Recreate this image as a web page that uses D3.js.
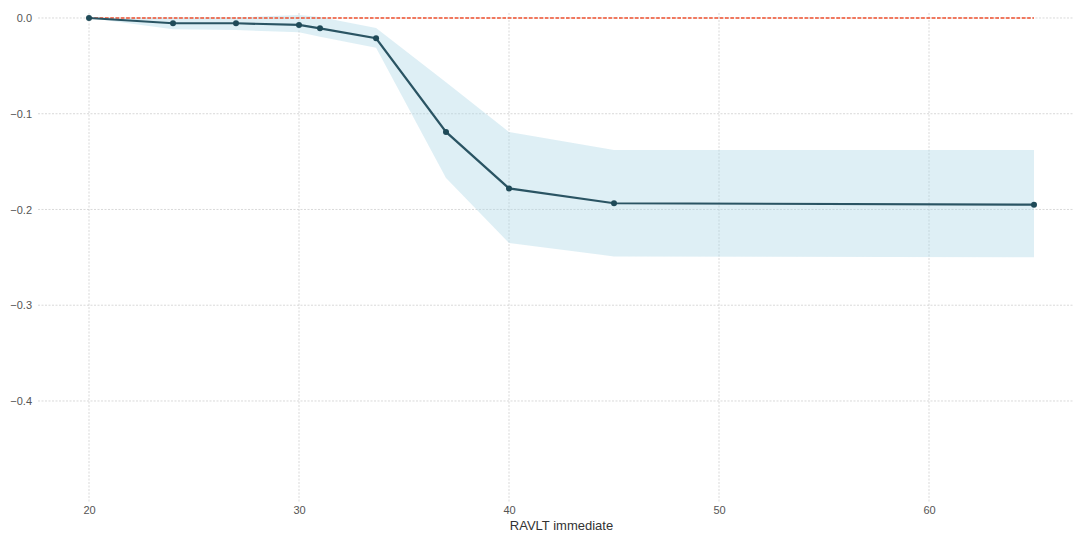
<!DOCTYPE html>
<html><head><meta charset="utf-8">
<script src="https://cdn.jsdelivr.net/npm/d3@7"></script>
<style>
html,body{margin:0;padding:0;background:#fff;}
svg{display:block;font-family:"Liberation Sans",Arial,sans-serif;}
</style></head>
<body><svg id="chart" width="1073" height="536"></svg>
<script>
const xValues = [20, 24, 27, 30, 31, 33.67, 37, 40, 45, 65];
const yValues = [0, -0.0055, -0.0055, -0.0073, -0.0108, -0.0212, -0.119, -0.178, -0.1935, -0.195];
const upperBand = [0, 0.0005, 0.0005, 0.003, 0.001, -0.0105, -0.067, -0.119, -0.138, -0.138];
const lowerBand = [0, -0.0118, -0.0125, -0.015, -0.0195, -0.031, -0.167, -0.235, -0.249, -0.250];
const xTicks = [20, 30, 40, 50, 60];
const yTicks = [0.0, -0.1, -0.2, -0.3, -0.4];
const xLabel = "RAVLT immediate";
const refValue = 0;

const svg = d3.select("#chart");
const x = d3.scaleLinear().domain([17.75, 67.25]).range([41.75, 1081.25]);
const y = d3.scaleLinear().domain([0.0052, -0.5055]).range([13, 502]);

const data = xValues.map((v, i) => ({x: v, y: yValues[i], lo: lowerBand[i], hi: upperBand[i]}));

// grid
const grid = svg.append("g");
grid.selectAll("line.vg").data(xTicks).join("line")
  .attr("x1", d => x(d)).attr("x2", d => x(d))
  .attr("y1", 13).attr("y2", 502)
  .attr("stroke", "#cfcfcf").attr("stroke-width", 0.8).attr("stroke-dasharray", "2,1.5");
grid.selectAll("line.hg").data(yTicks).join("line")
  .attr("x1", 38).attr("x2", 1081.25)
  .attr("y1", d => y(d)).attr("y2", d => y(d))
  .attr("stroke", "#cfcfcf").attr("stroke-width", 0.8).attr("stroke-dasharray", "2,1.5");

// band
svg.append("path").datum(data)
  .attr("d", d3.area().x(d => x(d.x)).y0(d => y(d.lo)).y1(d => y(d.hi)))
  .attr("fill", "#add8e6").attr("fill-opacity", 0.4);

// reference line
svg.append("line")
  .attr("x1", x(xValues[0])).attr("x2", x(xValues[xValues.length - 1]))
  .attr("y1", y(refValue)).attr("y2", y(refValue))
  .attr("stroke", "#f0502f").attr("stroke-width", 1.3).attr("stroke-dasharray", "3.7,1.6");

// line
svg.append("path").datum(data)
  .attr("d", d3.line().x(d => x(d.x)).y(d => y(d.y)))
  .attr("fill", "none").attr("stroke", "#2a5463").attr("stroke-width", 2.2);
svg.selectAll("circle.pt").data(data).join("circle")
  .attr("cx", d => x(d.x)).attr("cy", d => y(d.y)).attr("r", 3)
  .attr("fill", "#1f4a58");

// axes
const xAxis = d3.axisBottom(x).tickValues(xTicks).tickFormat(d3.format("d")).tickSize(0).tickPadding(4);
const gx = svg.append("g").attr("transform", "translate(0,502)").call(xAxis);
gx.select(".domain").remove();
gx.selectAll("text").attr("fill", "#555").attr("font-size", 11).attr("font-family", "Liberation Sans, Arial, sans-serif");

const yAxis = d3.axisLeft(y).tickValues(yTicks).tickFormat(d3.format(".1f")).tickSize(0).tickPadding(6);
const gy = svg.append("g").attr("transform", "translate(38,0)").call(yAxis);
gy.select(".domain").remove();
gy.selectAll("text").attr("fill", "#555").attr("font-size", 11).attr("font-family", "Liberation Sans, Arial, sans-serif");

svg.append("text").attr("x", (x.range()[0] + x.range()[1]) / 2).attr("y", 530).attr("text-anchor", "middle")
  .attr("fill", "#333").attr("font-size", 13).text(xLabel);
</script></body></html>
